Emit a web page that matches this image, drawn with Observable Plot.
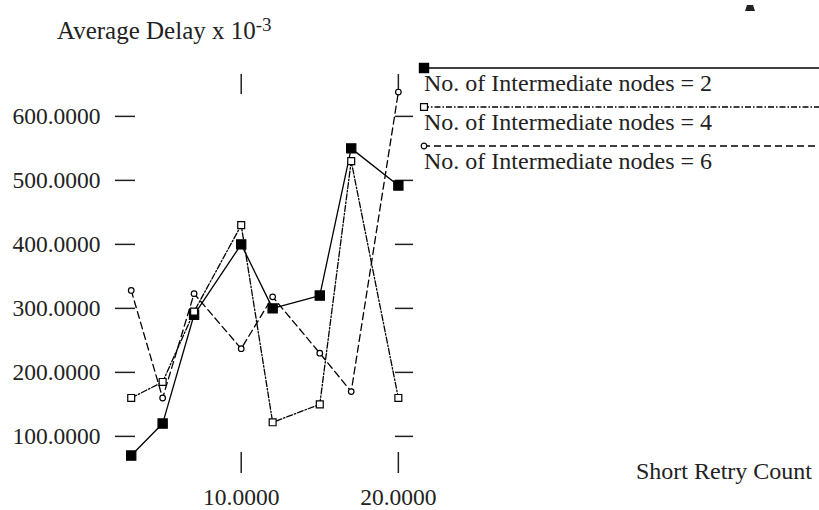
<!DOCTYPE html>
<html><head><meta charset="utf-8">
<script src="https://cdn.jsdelivr.net/npm/d3@7"></script>
<script src="https://cdn.jsdelivr.net/npm/@observablehq/plot@0.6"></script>
<style>body{margin:0;background:#fff;} #chart{position:relative;width:819px;height:510px;}</style>
</head><body><div id="chart"></div>
<script>
// ---- data ----
const retryCounts = [3, 5, 7, 10, 12, 15, 17, 20];
const nodes2 = [70, 120, 290, 400, 300, 320, 550, 492];
const nodes4 = [160, 185, 295, 430, 122, 150, 530, 160];
const nodes6 = [328, 160, 323, 237, 318, 230, 170, 638];
const seriesNames = ["No. of Intermediate nodes = 2", "No. of Intermediate nodes = 4", "No. of Intermediate nodes = 6"];
const xTicks = [10, 20];
const yTicks = [100, 200, 300, 400, 500, 600];
const yTitle = "Average Delay x 10";
const yTitleExp = "-3";
const xTitle = "Short Retry Count";

const table = [];
[nodes2, nodes4, nodes6].forEach((vals, i) => vals.forEach((v, j) => table.push({x: retryCounts[j], y: v, series: seriesNames[i]})));
const rows = name => table.filter(d => d.series === name);

const styles = [
  {dash: null, symbol: "square", fill: "#000", r: 5.2},
  {dash: "6,2,1.5,2", symbol: "square", fill: "#fff", r: 3.9},
  {dash: "7,4", symbol: "circle", fill: "#fff", r: 2.8}
];
const lineW = 1.3;
const font = "'Liberation Serif', 'Times New Roman', serif";

const lines = styles.map((st, i) => Plot.line(rows(seriesNames[i]), {x: "x", y: "y", stroke: "#000", strokeWidth: lineW, strokeDasharray: st.dash ?? undefined}));
const dots = styles.map((st, i) => Plot.dot(rows(seriesNames[i]), {x: "x", y: "y", symbol: st.symbol, r: st.r, fill: st.fill, stroke: "#000", strokeWidth: 1.2}));

const chart = Plot.plot({
  width: 819, height: 510,
  marginLeft: 115, marginRight: 407, marginTop: 73, marginBottom: 37,
  style: {fontFamily: font, fontSize: "23.5px", color: "#222", background: "#fff", overflow: "visible"},
  x: {domain: [2, 20.9], axis: null},
  y: {domain: [42, 667], axis: null},
  marks: [
    Plot.axisY(yTicks, {anchor: "left", tickSize: -20, tickFormat: () => "", label: null, strokeWidth: 1.5}),
    Plot.axisY(yTicks, {anchor: "left", tickSize: 0, tickPadding: 15, tickFormat: d => d.toFixed(4), label: null}),
    Plot.axisY(yTicks, {anchor: "right", tickSize: -18, tickFormat: () => "", label: null, strokeWidth: 1.5}),
    Plot.axisX(xTicks, {anchor: "top", tickSize: -20, tickFormat: () => "", label: null, strokeWidth: 1.5}),
    Plot.axisX(xTicks, {anchor: "bottom", tickSize: -21, tickFormat: () => "", label: null, strokeWidth: 1.5}),
    Plot.axisX(xTicks, {anchor: "bottom", tickSize: 0, tickPadding: 15, tickFormat: d => d.toFixed(4), label: null}),
    ...lines,
    ...dots
  ]
});
document.getElementById("chart").appendChild(chart);

// ---- titles and legend ----
const svg = d3.select(chart);
const t = svg.append("text").attr("x", 57).attr("y", 39).attr("font-size", 25).attr("fill", "#222")
  .attr("font-family", font).attr("text-anchor", "start");
t.append("tspan").text(yTitle);
t.append("tspan").attr("dy", -8).attr("font-size", 19).text(yTitleExp);

svg.append("text").attr("x", 636).attr("y", 479).attr("font-size", 24).attr("fill", "#222")
  .attr("font-family", font).attr("text-anchor", "start").text(xTitle);

// small mark at top right
svg.append("path").attr("d", "M747,5 L753,5 L755,11 L745,11 Z").attr("fill", "#222");

const lg = svg.append("g");
styles.forEach((st, i) => {
  const y = 68 + i * 39;
  lg.append("line").attr("x1", 423).attr("x2", 819).attr("y1", y).attr("y2", y)
    .attr("stroke", "#000").attr("stroke-width", lineW).attr("stroke-dasharray", st.dash);
  const sym = st.symbol === "square" ? d3.symbolSquare : d3.symbolCircle;
  lg.append("path").attr("transform", `translate(424,${y})`)
    .attr("d", d3.symbol(sym, Math.PI * st.r * st.r)())
    .attr("fill", st.fill).attr("stroke", "#000").attr("stroke-width", 1.2);
  lg.append("text").attr("x", 424).attr("y", y + 22.5).attr("font-size", 24).attr("fill", "#222")
    .attr("font-family", font).attr("text-anchor", "start").text(seriesNames[i]);
});
</script>
</body></html>
